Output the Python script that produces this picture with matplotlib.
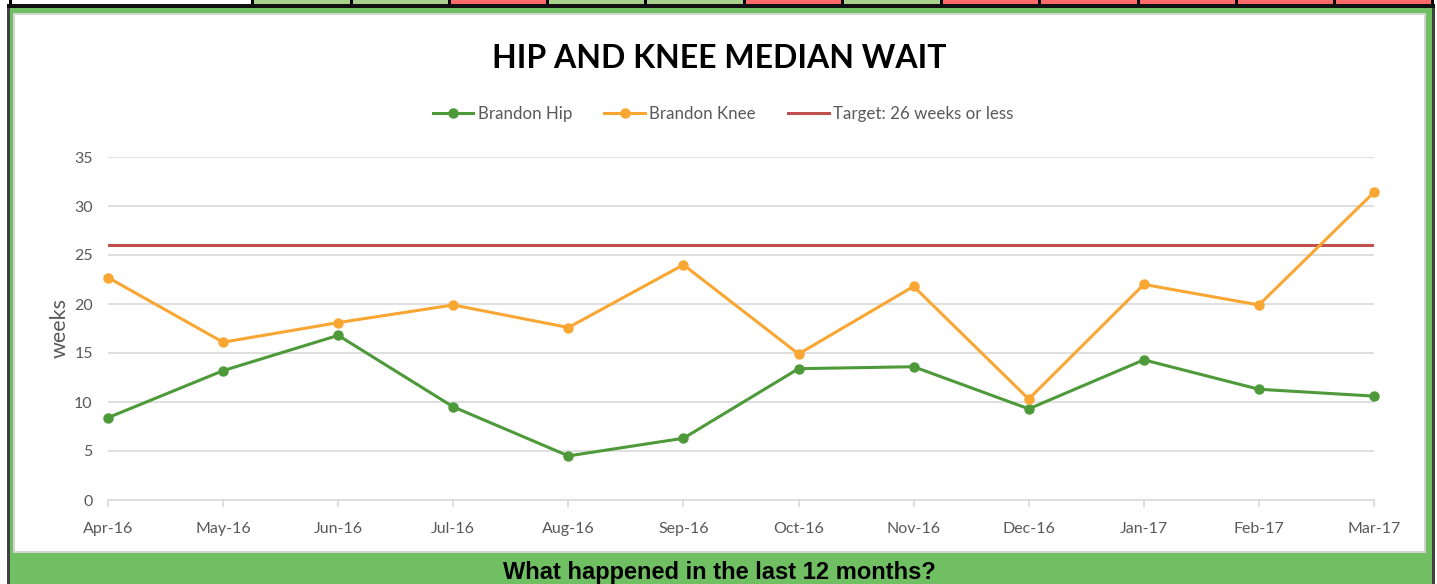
import matplotlib.pyplot as plt
from matplotlib.patches import Rectangle

# Data
months = ['Apr-16', 'May-16', 'Jun-16', 'Jul-16', 'Aug-16', 'Sep-16',
          'Oct-16', 'Nov-16', 'Dec-16', 'Jan-17', 'Feb-17', 'Mar-17']
hip = [8.4, 13.2, 16.8, 9.5, 4.5, 6.3, 13.4, 13.6, 9.3, 14.3, 11.3, 10.6]
knee = [22.7, 16.1, 18.1, 19.9, 17.6, 24.0, 14.9, 21.8, 10.3, 22.0, 19.9, 31.4]
target = [26] * 12
# status row above the chart (w = blank, g = met, r = missed)
status = ['w', 'g', 'g', 'r', 'g', 'g', 'r', 'g', 'r', 'r', 'r', 'r', 'r']

W, H = 1437, 584
fig = plt.figure(figsize=(W / 100, H / 100), dpi=100)
plt.rcParams['font.family'] = ['Lato', 'DejaVu Sans']

# Background frame drawn in pixel coords
bg = fig.add_axes([0, 0, 1, 1], zorder=0)
bg.set_xlim(0, W)
bg.set_ylim(H, 0)
bg.axis('off')

cell_colors = {'w': 'white', 'g': '#a9d18e', 'r': '#ff6b6b'}
edges = [10, 252, 351, 449, 547, 645, 744, 842, 941, 1039, 1138, 1236, 1334, 1432]
for i, s in enumerate(status):
    bg.add_patch(Rectangle((edges[i], 0), edges[i + 1] - edges[i], 5,
                           facecolor=cell_colors[s], edgecolor='none'))
for x in edges:
    bg.add_patch(Rectangle((x - 1.5, 0), 3, 5, facecolor='black', edgecolor='none'))
bg.add_patch(Rectangle((7, 4), 1428, 4, facecolor='#111111', edgecolor='none'))
bg.add_patch(Rectangle((7, 8), 1428, H - 8, facecolor='#404040', edgecolor='none'))
bg.add_patch(Rectangle((10, 8), 1422, H - 8, facecolor='#70bf63', edgecolor='none'))
bg.add_patch(Rectangle((13, 13), 1413, 540, facecolor='#d4d4d4', edgecolor='none'))
bg.add_patch(Rectangle((15, 15), 1409, 536, facecolor='white', edgecolor='none'))
bg.text(719, 579, 'What happened in the last 12 months?', ha='center', va='baseline',
        fontsize=17, fontweight='bold', family='Liberation Sans', color='black')

# Main chart
x0, x1, y0, y1 = 108, 1374, 157, 500
ax = fig.add_axes([x0 / W, (H - y1) / H, (x1 - x0) / W, (y1 - y0) / H], zorder=1)
ax.patch.set_alpha(0)
xs = list(range(len(months)))

ax.plot(xs, hip, color='#4e9a3a', lw=2.2, marker='o', ms=6.5, label='Brandon Hip',
        clip_on=False, zorder=4)
ax.plot(xs, knee, color='#f9a633', lw=2.2, marker='o', ms=6.5, label='Brandon Knee',
        clip_on=False, zorder=4)
ax.plot(xs, target, color='#c0504d', lw=2.2, label='Target: 26 weeks or less', zorder=3)

ax.set_xlim(0, len(months) - 1)
ax.set_ylim(0, 35)
ax.set_yticks(range(0, 36, 5))
ax.set_xticks(xs)
ax.set_xticklabels(months)
ax.grid(axis='y', color='#d9d9d9', lw=1.2)
ax.set_axisbelow(True)
for side in ['top', 'right', 'left']:
    ax.spines[side].set_visible(False)
ax.spines['bottom'].set_color('#d9d9d9')
ax.spines['bottom'].set_linewidth(1.2)
ax.tick_params(axis='y', length=0, pad=11, labelsize=11.5, labelcolor='#595959')
ax.tick_params(axis='x', length=5, width=1.2, color='#d9d9d9', pad=11,
               labelsize=11.5, labelcolor='#595959')
ax.set_ylabel('weeks', fontsize=15.5, color='#595959', labelpad=3)

fig.text(719 / W, 1 - 58 / H, 'HIP AND KNEE MEDIAN WAIT', ha='center', va='center',
         fontsize=23, fontweight='bold', color='black')

fig.legend(loc='center', bbox_to_anchor=(723 / W, 1 - 114 / H), ncol=3, frameon=False,
           fontsize=12.2, handlelength=2.4, columnspacing=1.9, handletextpad=0.25,
           labelcolor='#595959')

fig.savefig('out.png', dpi=100)
